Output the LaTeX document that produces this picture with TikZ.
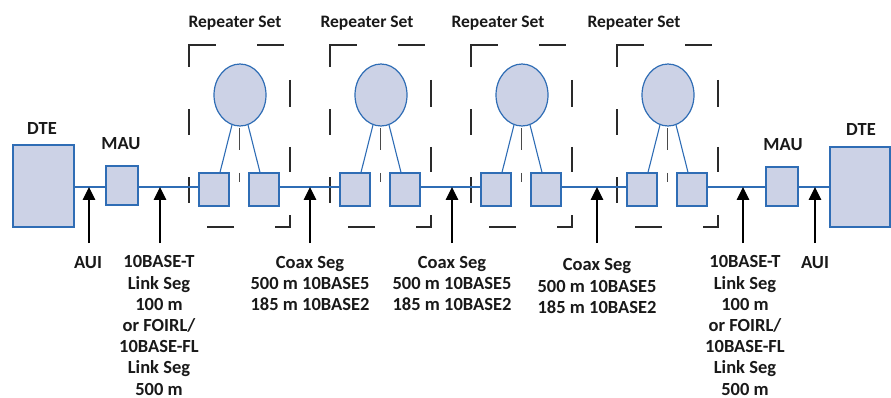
\documentclass[tikz,border=0pt]{standalone}
\usepackage{fontspec}
\setmainfont{Carlito}
\usetikzlibrary{shapes.geometric,arrows.meta}
\definecolor{boxfill}{HTML}{CCD2E6}
\definecolor{boxline}{HTML}{2F6DB5}
\definecolor{framegray}{HTML}{2A2A2A}
\definecolor{axisgray}{HTML}{4A4A4A}
\tikzset{
  x=1pt, y=-1pt,
  unit/.style={draw=boxline, fill=boxfill, line width=1.2pt, inner sep=0,
    minimum width=30, minimum height=33},
  hub/.style={ellipse, draw=boxline, fill=boxfill, line width=1.2pt, inner sep=0,
    minimum width=52, minimum height=62},
  station/.style={draw=boxline, fill=boxfill, line width=1.2pt, inner sep=0},
  wire/.style={draw=boxline, line width=1.1pt},
  frameline/.style={draw=framegray, line width=1.5pt},
  axisline/.style={draw=axisgray, line width=1.5pt},
  pointer/.style={draw=black, line width=1.1pt, -{Triangle[width=12.5pt,length=13pt]}},
  lbl/.style={font=\bfseries\fontsize{18.5}{21.2}\selectfont, align=center, inner sep=0, text=black!90},
  toplbl/.style={font=\bfseries\fontsize{17.5}{21}\selectfont, inner sep=0, text=black!90},
}
\begin{document}
\begin{tikzpicture}
\useasboundingbox (0,0) rectangle (891,398);
\coordinate (ln) at (0,187);

% end stations and MAUs
\node[station, minimum width=61, minimum height=82] (dte1) at (43.5,186) {};
\node[station, minimum width=32, minimum height=39] (mau1) at (122,185.5) {};
\node[station, minimum width=32, minimum height=39] (mau2) at (782,186.5) {};
\node[station, minimum width=60, minimum height=80] (dte2) at (860,187) {};

% repeater sets
\foreach \ox [count=\i] in {189,330,471,617} {
  \begin{scope}[xshift=\ox]
    \node[unit] (L\i) at (25,189.5) {};
    \node[unit] (R\i) at (75,189.5) {};
    \node[hub] (C\i) at (51,95) {};
    \draw[wire] (C\i.255) -- ([xshift=6]L\i.north);
    \draw[wire] (C\i.285) -- ([xshift=-4]R\i.north);
    % centre axis between the two ports
    \draw[axisline] (50.5,128) -- (50.5,150) (50.5,173) -- (50.5,182);
    % dashed enclosure
    \draw[frameline] (0,67) -- (0,45) -- (27,45)
      (68,45) -- (95,45)
      (101,80) -- (101,107)
      (101,147) -- (101,172)
      (101,215) -- (101,227) -- (86,227)
      (45,227) -- (18,227)
      (0,203) -- (0,177)
      (0,135) -- (0,109);
  \end{scope}
}

% backbone
\draw[wire] (dte1.east |- ln) -- (mau1.west |- ln);
\draw[wire] (mau1.east |- ln) -- (L1.west |- ln);
\draw[wire] (R1.east |- ln) -- (L2.west |- ln);
\draw[wire] (R2.east |- ln) -- (L3.west |- ln);
\draw[wire] (R3.east |- ln) -- (L4.west |- ln);
\draw[wire] (R4.east |- ln) -- (mau2.west |- ln);
\draw[wire] (mau2.east |- ln) -- (dte2.west |- ln);

% interface pointers
\foreach \px [count=\k] in {89,160,310,452,597,743,815} {
  \coordinate (p\k) at (\px,243);
  \draw[pointer] (p\k) -- (p\k |- ln);
}

% labels
\node[lbl, anchor=base] (tdte1) at (42,135) {DTE};
\node[lbl, anchor=base] (tmau1) at (121,150) {MAU};
\node[lbl, anchor=base] (tmau2) at (783,151) {MAU};
\node[lbl, anchor=base] (tdte2) at (861,136) {DTE};
\node[toplbl, anchor=base] (rs1) at (235,28) {Repeater Set};
\node[toplbl, anchor=base] (rs2) at (367,28) {Repeater Set};
\node[toplbl, anchor=base] (rs3) at (498,28) {Repeater Set};
\node[toplbl, anchor=base] (rs4) at (634,28) {Repeater Set};

\node[lbl, anchor=north] (aui1) at (88,256) {AUI};
\node[lbl, anchor=north] (seg1) at (159,255.5) {10BASE-T\\Link Seg\\100 m\\or FOIRL/\\10BASE-FL\\Link Seg\\500 m};
\node[lbl, anchor=north] (coax1) at (310,256) {Coax Seg\\500 m 10BASE5\\185 m 10BASE2};
\node[lbl, anchor=north] (coax2) at (452,256) {Coax Seg\\500 m 10BASE5\\185 m 10BASE2};
\node[lbl, anchor=north] (coax3) at (597,258.5) {Coax Seg\\500 m 10BASE5\\185 m 10BASE2};
\node[lbl, anchor=north] (seg2) at (745,255.5) {10BASE-T\\Link Seg\\100 m\\or FOIRL/\\10BASE-FL\\Link Seg\\500 m};
\node[lbl, anchor=north] (aui2) at (815,256) {AUI};
\end{tikzpicture}
\end{document}
